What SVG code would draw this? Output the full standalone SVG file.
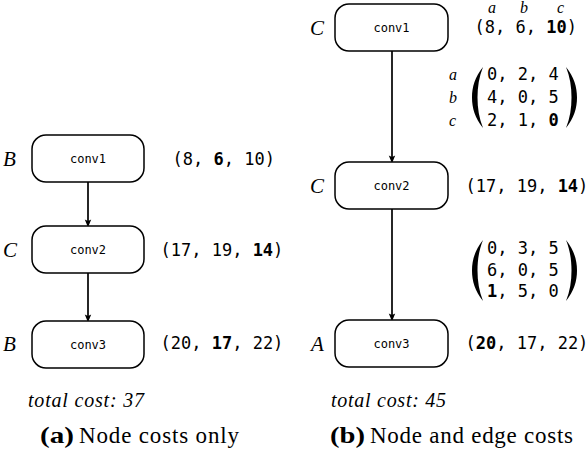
<svg xmlns="http://www.w3.org/2000/svg" width="588" height="452" viewBox="0 0 588 452">
<style>
.node{fill:#fff;stroke:#000;stroke-width:1.5}
.nl{font-family:"DejaVu Sans Mono",monospace;font-size:12px;text-anchor:middle}
.t{font-family:"DejaVu Sans Mono",monospace;font-size:17px}
.b{font-weight:bold}
.m{font-family:"Liberation Serif",serif;font-style:italic;font-size:21px}
.s{font-family:"Liberation Serif",serif;font-style:italic;font-size:16px}
.tc{font-family:"Liberation Serif",serif;font-style:italic;font-size:20px}
.cap{font-family:"Liberation Serif",serif;font-size:23px}
.edge{stroke:#000;stroke-width:1.7;fill:none}
</style>
<defs>
<marker id="ah" markerWidth="8" markerHeight="10" refX="7" refY="4" orient="auto" markerUnits="userSpaceOnUse" viewBox="0 0 10 8">
<path d="M0,0 L10,4 L0,8 L2,4 Z" fill="#000"/>
</marker>
<path id="lp" d="M11,0 C3,10 0,20 0,30.5 C0,41 3,51 11,61 C7,51 5.5,41 5.5,30.5 C5.5,20 7,10 11,0 Z" fill="#000"/>
<path id="rp" d="M0,0 C8,10 11,20 11,30.5 C11,41 8,51 0,61 C4,51 5.5,41 5.5,30.5 C5.5,20 4,10 0,0 Z" fill="#000"/>
</defs>

<g id="edges">
<line class="edge" x1="88" y1="182" x2="88" y2="225" marker-end="url(#ah)"/>
<line class="edge" x1="88" y1="273" x2="88" y2="320" marker-end="url(#ah)"/>
<line class="edge" x1="392" y1="51" x2="392" y2="161" marker-end="url(#ah)"/>
<line class="edge" x1="392" y1="209" x2="392" y2="319" marker-end="url(#ah)"/>
</g>

<g id="a-conv1">
<rect class="node" x="32" y="135" width="112" height="47" rx="14"/>
<text class="nl" x="88" y="163">conv1</text>
<text class="m" x="3" y="166">B</text>
<text class="t" x="172.5" y="165">(8, <tspan class="b">6</tspan>, 10)</text>
</g>
<g id="a-conv2">
<rect class="node" x="32" y="226" width="112" height="47" rx="14"/>
<text class="nl" x="88" y="254">conv2</text>
<text class="m" x="3" y="257">C</text>
<text class="t" x="160.5" y="256">(17, 19, <tspan class="b">14</tspan>)</text>
</g>
<g id="a-conv3">
<rect class="node" x="32" y="321" width="112" height="47" rx="14"/>
<text class="nl" x="88" y="349">conv3</text>
<text class="m" x="3" y="351">B</text>
<text class="t" x="160.5" y="349">(20, <tspan class="b">17</tspan>, 22)</text>
</g>

<g id="b-conv1">
<rect class="node" x="335" y="4" width="113" height="47" rx="14"/>
<text class="nl" x="391.5" y="32">conv1</text>
<text class="m" x="310" y="35">C</text>
<text class="s" x="488" y="13">a</text>
<text class="s" x="520" y="13">b</text>
<text class="s" x="557" y="13">c</text>
<text class="t" x="474.5" y="33">(8, 6, <tspan class="b">10</tspan>)</text>
</g>
<g id="b-conv2">
<rect class="node" x="335" y="162" width="113" height="47" rx="14"/>
<text class="nl" x="391.5" y="190">conv2</text>
<text class="m" x="310" y="193">C</text>
<text class="t" x="465.5" y="192">(17, 19, <tspan class="b">14</tspan>)</text>
</g>
<g id="b-conv3">
<rect class="node" x="335" y="320" width="113" height="47" rx="14"/>
<text class="nl" x="391.5" y="348">conv3</text>
<text class="m" x="311" y="351">A</text>
<text class="t" x="465.5" y="349">(<tspan class="b">20</tspan>, 17, 22)</text>
</g>

<g id="matrix1">
<text class="s" x="449" y="80">a</text>
<text class="s" x="449" y="103">b</text>
<text class="s" x="449" y="126">c</text>
<use href="#lp" x="472" y="67"/>
<use href="#rp" x="566" y="67"/>
<text class="t" x="487" y="80">0, 2, 4</text>
<text class="t" x="487" y="103">4, 0, 5</text>
<text class="t" x="487" y="126">2, 1, <tspan class="b">0</tspan></text>
</g>
<g id="matrix2">
<use href="#lp" x="472" y="240"/>
<use href="#rp" x="566" y="240"/>
<text class="t" x="487" y="254">0, 3, 5</text>
<text class="t" x="487" y="276">6, 0, 5</text>
<text class="t" x="487" y="297"><tspan class="b">1</tspan>, 5, 0</text>
</g>

<g id="captions">
<text class="tc" x="28" y="407" textLength="116" lengthAdjust="spacing">total cost: 37</text>
<text class="tc" x="331" y="407" textLength="115" lengthAdjust="spacing">total cost: 45</text>
<text class="cap" x="40" y="443" font-weight="bold" textLength="34" lengthAdjust="spacingAndGlyphs">(a)</text>
<text class="cap" x="79" y="443" textLength="160" lengthAdjust="spacing">Node costs only</text>
<text class="cap" x="330" y="443" font-weight="bold" textLength="35" lengthAdjust="spacingAndGlyphs">(b)</text>
<text class="cap" x="370" y="443" textLength="203" lengthAdjust="spacing">Node and edge costs</text>
</g>
</svg>
